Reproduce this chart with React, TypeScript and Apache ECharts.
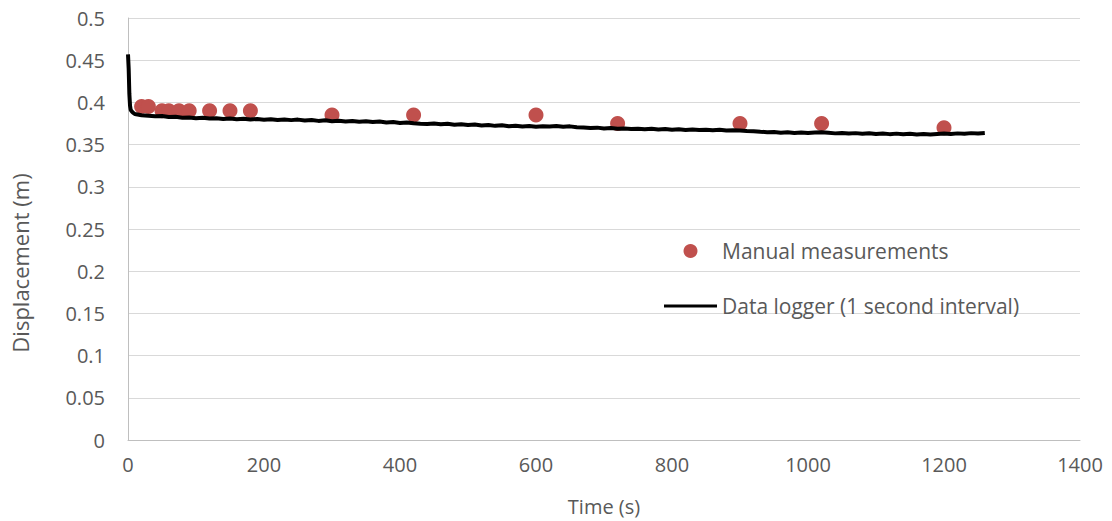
import React, { useEffect, useRef } from "react";
import * as echarts from "echarts";

// Manual measurements: time (s) and displacement (m)
const manualTimes = [20, 30, 50, 60, 75, 90, 120, 150, 180, 300, 420, 600, 720, 900, 1020, 1200];
const manualValues = [0.395, 0.395, 0.39, 0.39, 0.39, 0.39, 0.39, 0.39, 0.39, 0.385, 0.385, 0.385, 0.375, 0.375, 0.375, 0.37];

// Data logger: first seconds (initial drop)
const loggerStartTimes = [0, 1, 2, 3, 4, 6, 8];
const loggerStartValues = [0.457, 0.44, 0.41, 0.396, 0.391, 0.389, 0.3875];

// Data logger: values every 10 s from t = 10 s to t = 1260 s
const loggerStep = 10;
const loggerValues = [
  0.3862, 0.3848, 0.3842, 0.3835, 0.3838, 0.3826, 0.383, 0.3819, 0.3822, 0.3812,
  0.3818, 0.3808, 0.3813, 0.3804, 0.381, 0.3801, 0.3806, 0.3798, 0.3803, 0.3795,
  0.3801, 0.3792, 0.3797, 0.379, 0.3796, 0.3786, 0.3792, 0.3781, 0.3788, 0.3776,
  0.3782, 0.3774, 0.3779, 0.377, 0.3776, 0.3768, 0.3773, 0.3762, 0.3768, 0.3757,
  0.3763, 0.3752, 0.3748, 0.3745, 0.3751, 0.374, 0.3746, 0.3736, 0.3741, 0.3731,
  0.3737, 0.3726, 0.3732, 0.3722, 0.3728, 0.3718, 0.3724, 0.3714, 0.3719, 0.3712,
  0.3717, 0.3714, 0.3719, 0.3712, 0.3716, 0.3706, 0.3702, 0.3697, 0.3701, 0.3692,
  0.3696, 0.3688, 0.3692, 0.3684, 0.3689, 0.3682, 0.3687, 0.3679, 0.3684, 0.3676,
  0.3681, 0.3674, 0.368, 0.3672, 0.3677, 0.367, 0.3675, 0.3666, 0.367, 0.3668,
  0.3662, 0.3658, 0.3652, 0.3647, 0.365, 0.3641, 0.3646, 0.3638, 0.3643, 0.3637,
  0.3642, 0.3645, 0.3639, 0.3633, 0.3638, 0.3631, 0.3636, 0.3628, 0.3634, 0.3626,
  0.3632, 0.3624, 0.363, 0.3622, 0.3628, 0.362, 0.3626, 0.3621, 0.3627, 0.3632,
  0.3625, 0.3633, 0.3628, 0.3636, 0.3631, 0.3637,
];

const xTicks = { min: 0, max: 1400, interval: 200 };
const yTicks = { min: 0, max: 0.5, interval: 0.05 };

const FONT = "'Open Sans', 'Noto Sans', sans-serif";
const TEXT = "#595959";
const FS = 20;

export default function App() {
  const ref = useRef<HTMLDivElement>(null);
  useEffect(() => {
    document.body.style.margin = "0";
    if (!ref.current) return;
    const chart = echarts.init(ref.current, null, { renderer: "svg" });
    const manualData = manualTimes.map((t, i) => [t, manualValues[i]]);
    const loggerData = [
      ...loggerStartTimes.map((t, i) => [t, loggerStartValues[i]]),
      ...loggerValues.map((v, i) => [(i + 1) * loggerStep, v]),
    ];
    chart.setOption({
      animation: false,
      textStyle: { fontFamily: FONT },
      grid: { left: 128, right: 32, top: 18, bottom: 81, containLabel: false },
      legend: {
        orient: "vertical",
        left: 664,
        top: 239,
        padding: 0,
        itemWidth: 53,
        itemHeight: 14,
        itemGap: 31,
        textStyle: { fontSize: 21, color: TEXT, fontFamily: FONT, lineHeight: 24 },
        data: [
          { name: "Manual measurements", icon: "circle" },
          { name: "Data logger (1 second interval)", icon: "path://M0,0 L53,0 L53,3 L0,3 Z" },
        ],
      },
      xAxis: {
        type: "value",
        min: xTicks.min,
        max: xTicks.max,
        interval: xTicks.interval,
        name: "Time (s)",
        nameLocation: "middle",
        nameGap: 56,
        nameTextStyle: { fontSize: FS, color: TEXT, fontFamily: FONT },
        axisLine: { show: true, lineStyle: { color: "#BFBFBF", width: 1 } },
        axisTick: { show: false },
        axisLabel: {
          fontSize: FS,
          color: TEXT,
          margin: 14,
          fontFamily: FONT,
          formatter: (v: number) => String(v),
        },
        splitLine: { show: false },
      },
      yAxis: {
        type: "value",
        min: yTicks.min,
        max: yTicks.max,
        interval: yTicks.interval,
        axisLine: { show: true, lineStyle: { color: "#BFBFBF", width: 1 } },
        axisTick: { show: false },
        axisLabel: { fontSize: FS, color: TEXT, margin: 23, fontFamily: FONT },
        splitLine: { show: true, lineStyle: { color: "#D9D9D9", width: 1 } },
      },
      graphic: [
        {
          type: "text",
          x: 20,
          y: 263,
          rotation: Math.PI / 2,
          style: {
            text: "Displacement (m)",
            fontSize: 22,
            fontFamily: FONT,
            fill: TEXT,
            align: "center",
            verticalAlign: "middle",
          },
        },
      ],
      series: [
        {
          name: "Manual measurements",
          type: "scatter",
          data: manualData,
          symbol: "circle",
          symbolSize: 15,
          itemStyle: { color: "#C0504D", opacity: 1 },
          z: 2,
        },
        {
          name: "Data logger (1 second interval)",
          type: "line",
          data: loggerData,
          symbol: "none",
          showSymbol: false,
          lineStyle: { color: "#000000", width: 4 },
          itemStyle: { color: "#000000" },
          z: 3,
        },
      ],
    });
    return () => chart.dispose();
  }, []);
  return <div ref={ref} style={{ width: 1112, height: 521 }} />;
}
